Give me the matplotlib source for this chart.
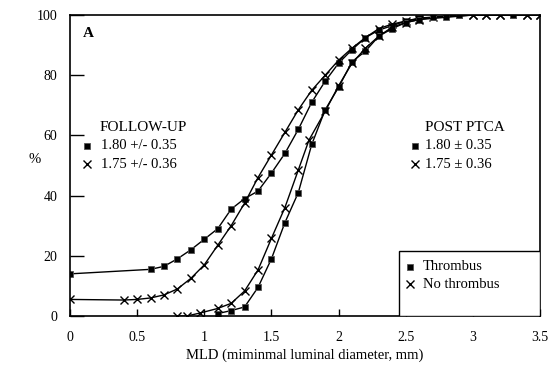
import matplotlib
matplotlib.use("Agg")
import matplotlib.pyplot as plt
from matplotlib.patches import Rectangle

plt.rcParams['font.family'] = ['Liberation Serif', 'DejaVu Serif']

# Follow-up, thrombus (squares)
fu_thr_x = [0, 0.6, 0.7, 0.8, 0.9, 1.0, 1.1, 1.2, 1.3, 1.4, 1.5, 1.6, 1.7, 1.8, 1.9,
            2.0, 2.1, 2.2, 2.3, 2.4, 2.5, 2.6, 2.7, 2.9, 3.3]
fu_thr_y = [14, 15.5, 16.5, 19, 22, 25.5, 29, 35.5, 39, 41.5, 47.5, 54, 62, 71, 78,
            84, 88.5, 92.5, 95, 96.5, 98, 99, 99.3, 100, 100]

# Follow-up, no thrombus (crosses)
fu_no_x = [0, 0.4, 0.5, 0.6, 0.7, 0.8, 0.9, 1.0, 1.1, 1.2, 1.3, 1.4, 1.5, 1.6, 1.7,
           1.8, 1.9, 2.0, 2.1, 2.2, 2.3, 2.4, 2.5, 2.6, 2.7, 3.0, 3.1, 3.2, 3.4, 3.5]
fu_no_y = [5.5, 5.3, 5.5, 6, 7, 9, 12.5, 17, 23.5, 30, 37.5, 46, 53.5, 61, 68.5,
           75, 80, 85, 89, 92.5, 95.5, 97, 98, 98.8, 99.2, 100, 100, 100, 100, 100]

# Post PTCA, thrombus (squares)
pp_thr_x = [1.1, 1.2, 1.3, 1.4, 1.5, 1.6, 1.7, 1.8, 1.9, 2.0, 2.1, 2.2, 2.3, 2.4,
            2.5, 2.6, 2.7, 2.8, 2.9, 3.3]
pp_thr_y = [0.8, 1.8, 3, 9.5, 19, 31, 41, 57, 68.5, 76, 84.5, 88, 93, 95.5,
            97.5, 98.5, 99.2, 99.5, 100, 100]

# Post PTCA, no thrombus (crosses)
pp_no_x = [0.8, 0.87, 0.97, 1.1, 1.2, 1.3, 1.4, 1.5, 1.6, 1.7, 1.78, 1.9, 2.0, 2.1,
           2.2, 2.3, 2.4, 2.5, 2.6, 3.0, 3.1, 3.2, 3.4, 3.5]
pp_no_y = [0, 0, 1, 2.5, 4.2, 8.3, 15.3, 25.8, 36, 48.5, 58.5, 68, 76.5, 84,
           89, 93, 96, 97.5, 98.5, 100, 100, 100, 100, 100]

x_ticks = [0, 0.5, 1, 1.5, 2, 2.5, 3, 3.5]
x_tick_labels = ["0", "0.5", "1", "1.5", "2", "2.5", "3", "3.5"]
y_ticks = [0, 20, 40, 60, 80, 100]

fig = plt.figure(figsize=(5.57, 3.67), dpi=100)
ax = fig.add_axes([0.1257, 0.139, 0.8438, 0.820])

sq_m = dict(marker='s', markersize=5, markerfacecolor='black', markeredgecolor='#555555',
            markeredgewidth=0.6, color='black')
xx_m = dict(marker='x', markersize=6, markeredgewidth=1.0, color='black')

ax.plot(fu_thr_x, fu_thr_y, linewidth=1.0, **sq_m)
ax.plot(fu_no_x, fu_no_y, linewidth=1.0, **xx_m)
ax.plot(pp_thr_x, pp_thr_y, linewidth=1.0, **sq_m)
ax.plot(pp_no_x, pp_no_y, linewidth=1.0, **xx_m)

ax.set_xlim(0, 3.5)
ax.set_ylim(0, 100)
ax.set_xticks(x_ticks)
ax.set_xticklabels(x_tick_labels)
ax.set_yticks(y_ticks)
ax.tick_params(axis='both', direction='in', labelsize=10, width=1)
ax.tick_params(axis='y', length=10, pad=9)
ax.tick_params(axis='x', length=5, pad=11)
for s in ax.spines.values():
    s.set_linewidth(1.2)

ax.set_xlabel("MLD (miminmal luminal diameter, mm)", fontsize=10.5, labelpad=3)
fig.text(0.063, 0.565, "%", fontsize=10.5, ha='center', va='center')

ax.text(0.027, 0.94, "A", transform=ax.transAxes, fontsize=11, fontweight='bold',
        ha='left', va='center')

# Follow-up annotation
ax.text(0.063, 0.625, "FOLLOW-UP", transform=ax.transAxes, fontsize=11, ha='left', va='center')
ax.plot([0.037], [0.565], transform=ax.transAxes, linestyle='none', **sq_m)
ax.text(0.065, 0.565, "1.80 +/- 0.35", transform=ax.transAxes, fontsize=10.5, ha='left', va='center')
ax.plot([0.037], [0.505], transform=ax.transAxes, linestyle='none', **xx_m)
ax.text(0.065, 0.505, "1.75 +/- 0.36", transform=ax.transAxes, fontsize=10.5, ha='left', va='center')

# Post PTCA annotation
ax.text(0.755, 0.625, "POST PTCA", transform=ax.transAxes, fontsize=11, ha='left', va='center')
ax.plot([0.735], [0.565], transform=ax.transAxes, linestyle='none', **sq_m)
ax.text(0.755, 0.565, "1.80 \u00b1 0.35", transform=ax.transAxes, fontsize=10.5, ha='left', va='center')
ax.plot([0.735], [0.505], transform=ax.transAxes, linestyle='none', **xx_m)
ax.text(0.755, 0.505, "1.75 \u00b1 0.36", transform=ax.transAxes, fontsize=10.5, ha='left', va='center')

# Legend box (drawn manually to match the original box size)
ax.add_patch(Rectangle((0.70, 0.0), 0.30, 0.216, transform=ax.transAxes,
                       fill=True, facecolor='white', edgecolor='black', linewidth=1.0, zorder=3))
ax.plot([0.723], [0.163], transform=ax.transAxes, linestyle='none', zorder=4, **sq_m)
ax.text(0.75, 0.163, "Thrombus", transform=ax.transAxes, fontsize=10.5, ha='left', va='center', zorder=4)
ax.plot([0.723], [0.106], transform=ax.transAxes, linestyle='none', zorder=4, **xx_m)
ax.text(0.75, 0.106, "No thrombus", transform=ax.transAxes, fontsize=10.5, ha='left', va='center', zorder=4)

fig.savefig("out.png", dpi=100)
